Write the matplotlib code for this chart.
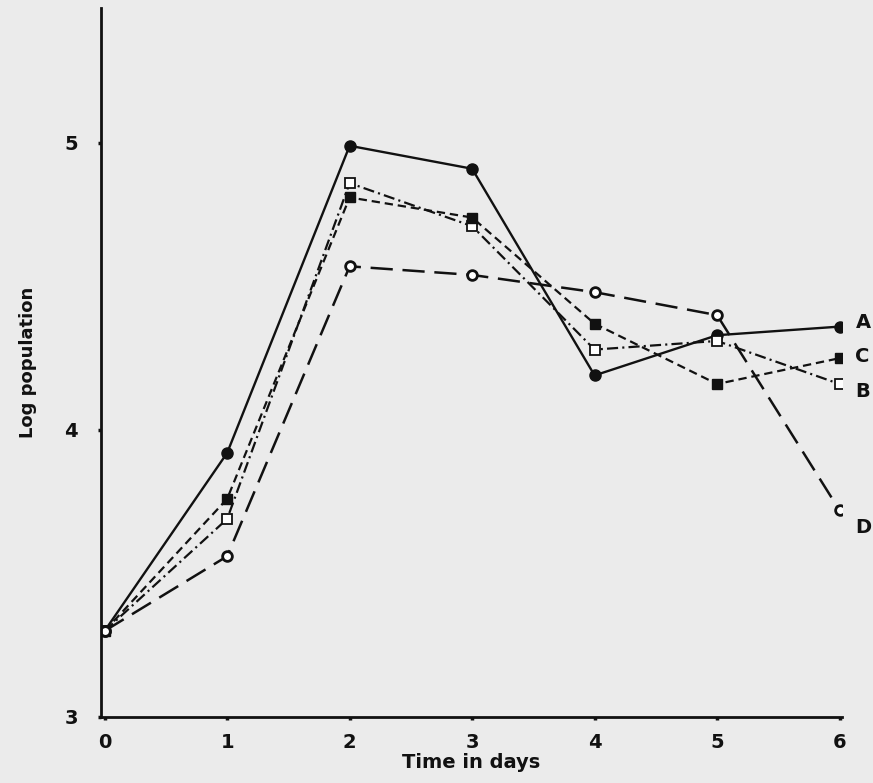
import matplotlib
matplotlib.use("Agg")
import matplotlib.pyplot as plt

# Data (log population vs time in days)
days = [0, 1, 2, 3, 4, 5, 6]
series_a = [3.30, 3.92, 4.99, 4.91, 4.19, 4.33, 4.36]
series_b = [3.30, 3.69, 4.86, 4.71, 4.28, 4.31, 4.16]
series_c = [3.30, 3.76, 4.81, 4.74, 4.37, 4.16, 4.25]
series_d = [3.30, 3.56, 4.57, 4.54, 4.48, 4.40, 3.72]
curve_names = ["A", "B", "C", "D"]
x_ticks = [0, 1, 2, 3, 4, 5, 6]
y_ticks = [3, 4, 5]

plt.rcParams["lines.scale_dashes"] = False
paper = "#ebebeb"
ink = "#111111"

fig = plt.figure(figsize=(8.73, 7.83), dpi=100, facecolor=paper)
ax = fig.add_axes([0.1157, 0.0843, 0.8488, 0.9055])
ax.set_facecolor(paper)

# A - solid, filled circles
ax.plot(days, series_a, color=ink, lw=1.7, ls="-",
        marker="o", ms=8, mfc=ink, mec=ink)
# B - dash-dot, open squares
ax.plot(days, series_b, color=ink, lw=1.6, ls=(0, (8, 3, 1.5, 3)),
        marker="s", ms=6.5, mfc="white", mec=ink, mew=1.3)
# C - short dashes, filled squares
ax.plot(days, series_c, color=ink, lw=1.6, ls=(0, (6, 3.5)),
        marker="s", ms=6.5, mfc=ink, mec=ink)
# D - long dashes, open circles
ax.plot(days, series_d, color=ink, lw=1.8, ls=(0, (16, 7)),
        marker="o", ms=7, mfc="white", mec=ink, mew=2)

# curve labels at the right end
ends = [series_a[-1], series_b[-1], series_c[-1], series_d[-1]]
offsets = [0.015, -0.025, 0.005, -0.06]
for name, yv, off in zip(curve_names, ends, offsets):
    ax.text(6.13, yv + off, name, fontsize=14, fontweight="bold",
            color=ink, va="center", ha="left", clip_on=False)

ax.set_xlim(-0.03, 6.02)
ax.set_ylim(3, 5.47)
ax.set_xticks(x_ticks)
ax.set_yticks(y_ticks)
ax.tick_params(axis="both", direction="out", length=2.5, width=2.5,
               colors=ink, labelsize=14)
ax.tick_params(axis="x", pad=9)
ax.tick_params(axis="y", pad=14)
for lab in ax.get_xticklabels() + ax.get_yticklabels():
    lab.set_fontweight("bold")

for side in ["top", "right"]:
    ax.spines[side].set_visible(False)
for side in ["left", "bottom"]:
    ax.spines[side].set_linewidth(2)
    ax.spines[side].set_color(ink)

ax.set_xlabel("Time in days", fontsize=14, fontweight="bold", color=ink,
              labelpad=1)
ax.set_ylabel("Log population", fontsize=13, fontweight="bold", color=ink,
              labelpad=20)

fig.savefig("out.png", dpi=100, facecolor=paper)
